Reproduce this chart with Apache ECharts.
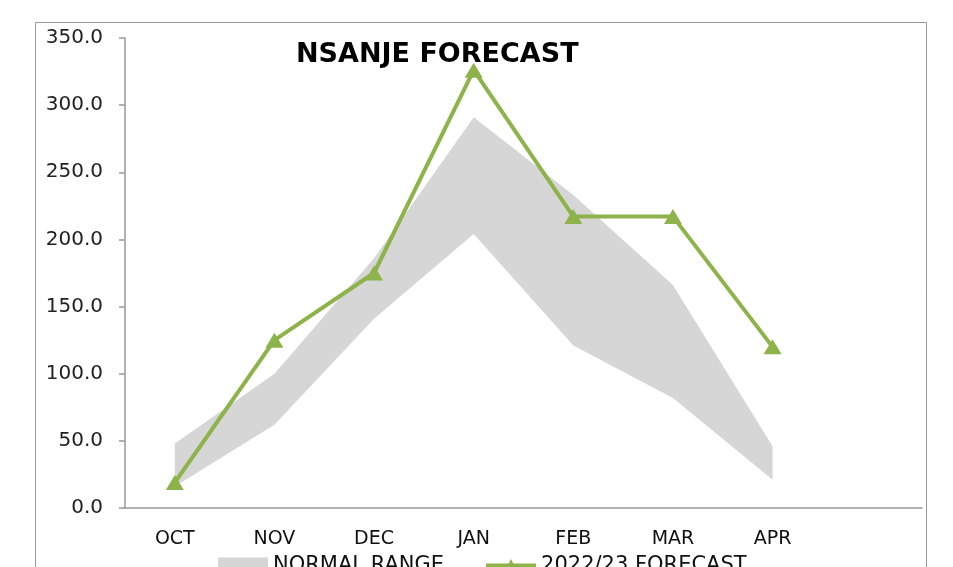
<!DOCTYPE html>
<html>
<head>
<meta charset="utf-8">
<script src="https://cdn.jsdelivr.net/npm/echarts@6/dist/echarts.min.js"></script>
<style>
  html, body { margin: 0; padding: 0; background: #fff; }
  #main { width: 953px; height: 567px; }
</style>
</head>
<body>
<div id="main"></div>
<script>
// months, last slot is empty like in the sheet
var months = ['OCT', 'NOV', 'DEC', 'JAN', 'FEB', 'MAR', 'APR', ''];
// normal range (lower / upper edge)
var rangeLow = [16, 62, 141, 204, 121, 82, 21];
var rangeHigh = [48, 100, 186, 291, 233, 166, 46];
// 2022/23 forecast
var forecast = [19, 125, 175, 326, 217, 217, 120];

var rangeSpan = rangeHigh.map(function (v, i) { return v - rangeLow[i]; });

var myChart = echarts.init(document.getElementById('main'));

var option = {
  animation: false,
  title: {
    text: 'NSANJE FORECAST',
    left: 291,
    top: 36,
    textStyle: { fontFamily: 'DejaVu Sans', fontWeight: 'bold', fontSize: 27, color: '#000' }
  },
  graphic: [
    {
      type: 'rect',
      shape: { x: 35.5, y: 22.5, width: 891, height: 620 },
      style: { fill: 'none', stroke: '#999', lineWidth: 1 },
      silent: true
    }
  ],
  legend: {
    left: 213,
    top: 550,
    itemWidth: 50,
    itemHeight: 16,
    itemGap: 40,
    textStyle: { fontFamily: 'DejaVu Sans', fontSize: 21, color: '#111' },
    data: [
      { name: 'NORMAL RANGE', icon: 'rect' },
      { name: '2022/23 FORECAST', lineStyle: { width: 4 } }
    ]
  },
  grid: { left: 125, right: 31, top: 38, bottom: 59 },
  xAxis: {
    type: 'category',
    data: months,
    boundaryGap: true,
    axisLine: { lineStyle: { color: '#999', width: 1.5 } },
    axisTick: { length: 7, lineStyle: { color: '#999', width: 1.5 } },
    axisLabel: { fontFamily: 'DejaVu Sans', fontSize: 19, color: '#111', margin: 22 }
  },
  yAxis: {
    type: 'value',
    min: 0,
    max: 350,
    interval: 50,
    axisLine: { show: true, lineStyle: { color: '#999', width: 1.5 } },
    axisTick: { show: true, length: 6, lineStyle: { color: '#999', width: 1.5 } },
    splitLine: { show: false },
    axisLabel: {
      fontFamily: 'DejaVu Sans',
      fontSize: 20,
      color: '#222',
      margin: 22,
      formatter: function (v) { return v.toFixed(1); }
    }
  },
  series: [
    {
      name: 'low',
      type: 'line',
      stack: 'range',
      data: rangeLow,
      symbol: 'none',
      lineStyle: { opacity: 0 },
      silent: true
    },
    {
      name: 'NORMAL RANGE',
      type: 'line',
      stack: 'range',
      data: rangeSpan,
      symbol: 'none',
      itemStyle: { color: '#d6d6d6' },
      lineStyle: { opacity: 0 },
      areaStyle: { color: '#d6d6d6', opacity: 1 },
      silent: true
    },
    {
      name: '2022/23 FORECAST',
      type: 'line',
      data: forecast,
      symbol: 'triangle',
      symbolSize: [18, 15],
      itemStyle: { color: '#8db34a' },
      lineStyle: { color: '#8db34a', width: 4 }
    }
  ]
};

myChart.setOption(option);
window.addEventListener('resize', myChart.resize);
</script>
</body>
</html>
